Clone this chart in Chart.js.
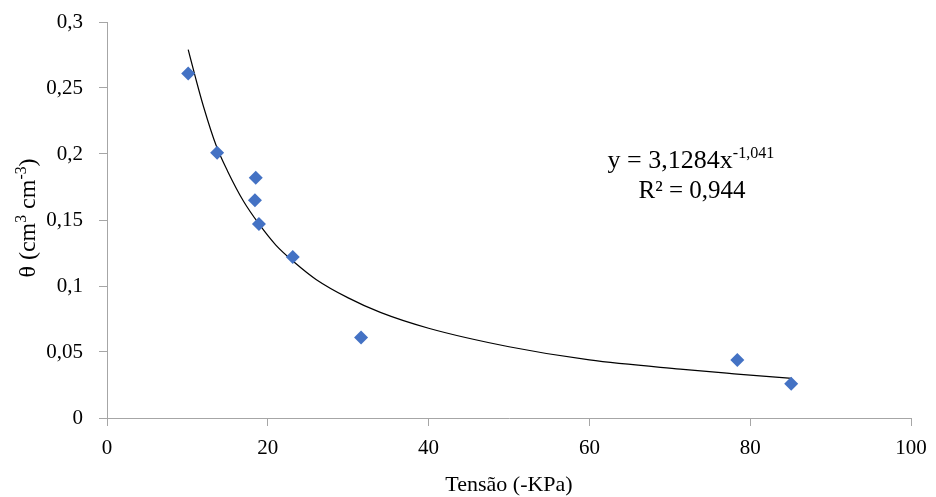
<!DOCTYPE html>
<html lang="pt-br">
<head>
  <meta charset="UTF-8">
  <title>Umidade x Tensão</title>
  <script src="https://cdn.jsdelivr.net/npm/chart.js"></script>
  <style>
    html, body { margin: 0; padding: 0; background: #fff; }
    #box { width: 936px; height: 497px; }
  </style>
</head>
<body>
  <div id="box"><canvas id="grafico"></canvas></div>
  <script>
    // Pontos observados
    const tensao = [10.1, 13.7, 18.5, 18.4, 18.9, 23.1, 31.6, 78.4, 85.1];
    const umidade = [0.261, 0.201, 0.182, 0.165, 0.147, 0.122, 0.061, 0.044, 0.026];

    // Linha de tendência
    const curvaX = [10.1, 11, 12, 13.6, 15, 17, 18.9, 21, 23.3, 26, 30, 34, 40, 50, 60, 71.3, 78, 85.2];
    const curvaY = [0.279, 0.258, 0.236, 0.206, 0.187, 0.164, 0.147, 0.131, 0.118, 0.105, 0.091, 0.080, 0.068, 0.054, 0.044, 0.037, 0.0335, 0.030];

    const ticksY = [0, 0.05, 0.1, 0.15, 0.2, 0.25, 0.3];
    const ticksX = [0, 20, 40, 60, 80, 100];

    const fonte = '"Liberation Serif", "Times New Roman", serif';
    const corEixo = '#a6a6a6';

    // escreve texto com pedaços sobrescritos
    function textoSup(ctx, partes, x, y, tam, fator) {
      const f = fator || 0.62;
      let larg = 0;
      partes.forEach(p => {
        ctx.font = (p.sup ? tam * f : tam) + 'px ' + fonte;
        larg += ctx.measureText(p.t).width;
      });
      let cx = x - larg / 2;
      partes.forEach(p => {
        ctx.font = (p.sup ? tam * f : tam) + 'px ' + fonte;
        ctx.fillText(p.t, cx, p.sup ? y - tam * 0.38 : y);
        cx += ctx.measureText(p.t).width;
      });
    }

    const textos = {
      id: 'textos',
      afterDraw(chart) {
        const ctx = chart.ctx;
        ctx.save();
        ctx.fillStyle = '#000';
        ctx.textAlign = 'left';
        ctx.textBaseline = 'alphabetic';
        // equação
        textoSup(ctx, [{ t: 'y = 3,1284x' }, { t: '-1,041', sup: true }], 691, 168, 26);
        textoSup(ctx, [{ t: 'R² = 0,944' }], 692, 198, 25);
        // título eixo x
        textoSup(ctx, [{ t: 'Tensão (-KPa)' }], 509, 491, 22);
        // título eixo y
        ctx.translate(35, 218);
        ctx.rotate(-Math.PI / 2);
        textoSup(ctx, [{ t: 'θ (cm' }, { t: '3', sup: true }, { t: ' cm' }, { t: '-3', sup: true }, { t: ')' }], 0, 0, 24, 0.66);
        ctx.restore();
      }
    };

    new Chart(document.getElementById('grafico'), {
      type: 'scatter',
      data: {
        datasets: [
          {
            label: 'θ',
            data: tensao.map((x, i) => ({ x, y: umidade[i] })),
            pointStyle: 'rectRot',
            pointRadius: 7,
            pointHoverRadius: 7,
            backgroundColor: '#4472C4',
            borderColor: '#4472C4',
            borderWidth: 0
          },
          {
            label: 'Potência',
            data: curvaX.map((x, i) => ({ x, y: curvaY[i] })),
            showLine: true,
            pointRadius: 0,
            borderColor: '#000',
            borderWidth: 1.2,
            cubicInterpolationMode: 'monotone'
          }
        ]
      },
      options: {
        responsive: true,
        maintainAspectRatio: false,
        animation: false,
        layout: { padding: { top: 22, right: 25, left: 0, bottom: 0 } },
        plugins: { legend: { display: false }, tooltip: { enabled: false } },
        scales: {
          x: {
            type: 'linear',
            min: 0, max: 100,
            afterBuildTicks: s => { s.ticks = ticksX.map(v => ({ value: v })); },
            afterFit: s => { s.height = 79; s.paddingLeft = 0; s.paddingRight = 0; },
            border: { display: true, color: corEixo, width: 1 },
            grid: { drawOnChartArea: false, drawTicks: true, tickLength: 8, color: corEixo },
            ticks: { color: '#000', font: { family: fonte, size: 21 }, padding: 10, maxRotation: 0 }
          },
          y: {
            type: 'linear',
            min: 0, max: 0.3,
            afterBuildTicks: s => { s.ticks = ticksY.map(v => ({ value: v })); },
            afterFit: s => { s.width = 107; s.paddingTop = 0; s.paddingBottom = 0; },
            border: { display: true, color: corEixo, width: 1 },
            grid: { drawOnChartArea: false, drawTicks: true, tickLength: 8, color: corEixo },
            ticks: {
              color: '#000', font: { family: fonte, size: 21 }, padding: 16,
              callback: v => String(+v.toFixed(2)).replace('.', ',')
            }
          }
        }
      },
      plugins: [textos]
    });
  </script>
</body>
</html>
